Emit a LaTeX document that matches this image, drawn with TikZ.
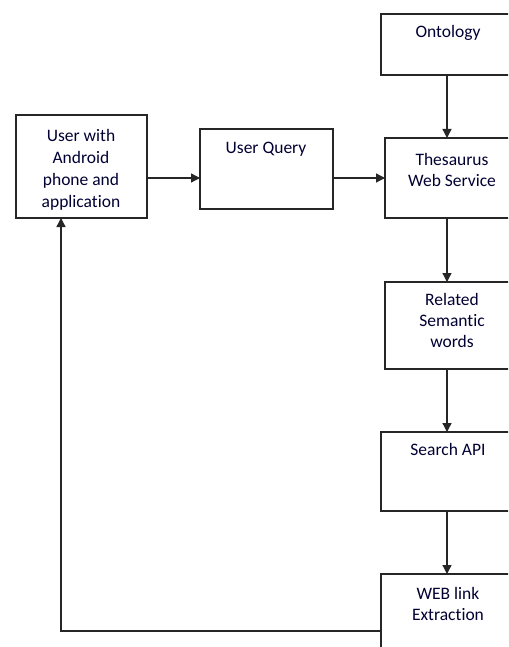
\documentclass[tikz,border=0pt]{standalone}
\usepackage{fontspec}
\setmainfont[Ligatures=NoCommon]{Carlito}
\usetikzlibrary{arrows.meta}
\tikzset{
  box/.style={draw=black!85, line width=1.3pt, inner sep=0pt, outer sep=0pt, anchor=north west, fill=white},
  lbl/.style={anchor=north, inner sep=0pt, align=center, text=black!80!blue, font=\fontsize{17.5}{21}\selectfont},
  conn/.style={draw=black!85, line width=1.3pt, -{Triangle[length=9pt,width=9pt]}},
  plain/.style={draw=black!85, line width=1.3pt}
}
\begin{document}
\begin{tikzpicture}[x=1pt,y=-1pt]
\useasboundingbox (0,0) rectangle (508,647);
\fill[white] (0,0) rectangle (508,647);
\clip (0,0) rectangle (508,647);
% boxes
\node[box, minimum width=131pt, minimum height=103pt] (user) at (16,115) {};
\node[box, minimum width=133pt, minimum height=80pt] (query) at (200,129) {};
\node[box, minimum width=134pt, minimum height=61pt] (ont) at (381,14) {};
\node[box, minimum width=134pt, minimum height=80pt] (thes) at (385,138) {};
\node[box, minimum width=134pt, minimum height=87pt] (rel) at (385,282) {};
\node[box, minimum width=134pt, minimum height=79pt] (search) at (381,432) {};
\node[box, minimum width=134pt, minimum height=100pt] (web) at (381,574) {};
% texts
\node[lbl, font=\fontsize{17.5}{22}\selectfont] (tuser) at (81,129) {User with\\Android\\phone and\\application};
\node[lbl] (tquery) at (266,142) {User Query};
\node[lbl] (tont) at (448,25) {Ontology};
\node[lbl] (tthes) at (452,153) {Thesaurus\\Web Service};
\node[lbl] (trel) at (452,293) {Related\\Semantic\\words};
\node[lbl] (tsearch) at (448,443) {Search API};
\node[lbl] (tweb) at (448,587) {WEB link\\Extraction};
% guide coordinates
\coordinate (axis) at (447,0);
\coordinate (row) at (0,178);
\coordinate (back) at (61,631);
% connectors
\draw[conn] (ont.south -| axis) -- (thes.north -| axis);
\draw[conn] (user.east |- row) -- (query.west |- row);
\draw[conn] (query.east |- row) -- (thes.west |- row);
\draw[conn] (thes.south -| axis) -- (rel.north -| axis);
\draw[conn] (rel.south -| axis) -- (search.north -| axis);
\draw[conn] (search.south -| axis) -- (web.north -| axis);
\draw[conn] (web.west |- back) -- (back) -- (user.south -| back);
\end{tikzpicture}
\end{document}
